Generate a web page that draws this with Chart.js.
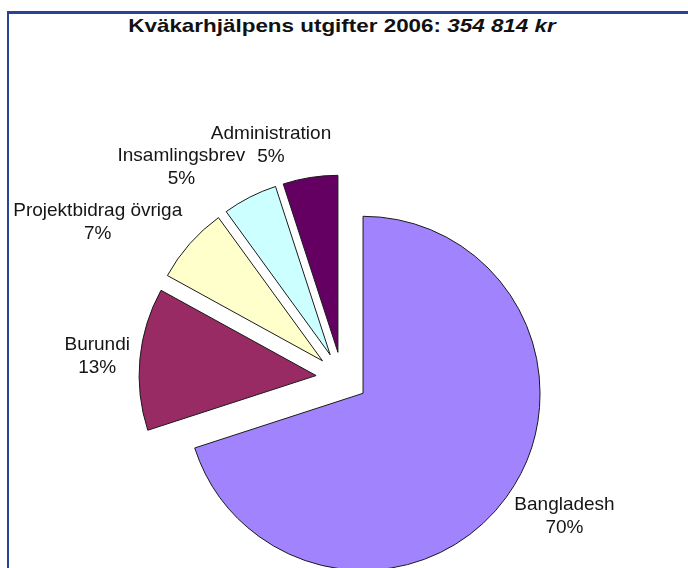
<!DOCTYPE html>
<html>
<head>
<meta charset="utf-8">
<script src="https://cdn.jsdelivr.net/npm/chart.js@4/dist/chart.umd.min.js"></script>
<style>
  html, body { margin: 0; padding: 0; background: #ffffff; }
  #wrap { position: relative; width: 688px; height: 568px; overflow: hidden; background: #fff; }
  #frame { position: absolute; left: 7px; top: 11px; width: 700px; height: 620px;
           border-top: 3px solid #2A4495; border-left: 2px solid #2A4495; }
  #title { position: absolute; left: 0; top: 16px; width: 684px; text-align: center;
           font: bold 19px "Liberation Sans", Arial, sans-serif; line-height: 20px; color: #111;
           transform: scaleX(1.18); transform-origin: 342px 0; white-space: nowrap; }
  canvas { position: absolute; left: 0; top: 0; }
</style>
</head>
<body>
<div id="wrap">
  <div id="frame"></div>
  <div id="title">Kväkarhjälpens utgifter 2006: <i>354 814 kr</i></div>
  <canvas id="c" width="688" height="568"></canvas>
</div>
<script>
const categories = ['Bangladesh', 'Burundi', 'Projektbidrag övriga', 'Insamlingsbrev', 'Administration'];
const shares = [70, 13, 7, 5, 5];
const sliceColors = ['#A283FE', '#982A64', '#FFFFCC', '#CCFFFF', '#640062'];

const EXPLODE = 26;

const explodePlugin = {
  id: 'explode',
  beforeDatasetDraw(chart, args) {
    const ctx = chart.ctx;
    args.meta.data.forEach(arc => {
      const mid = (arc.startAngle + arc.endAngle) / 2;
      ctx.save();
      ctx.translate(Math.cos(mid) * EXPLODE, Math.sin(mid) * EXPLODE);
      arc.draw(ctx);
      ctx.restore();
    });
    return false;
  }
};

const labelPlugin = {
  id: 'outLabels',
  afterDatasetsDraw(chart) {
    const ctx = chart.ctx;
    const meta = chart.getDatasetMeta(0);
    ctx.save();
    ctx.font = '19px "Liberation Sans", Arial, sans-serif';
    ctx.fillStyle = '#151515';
    ctx.textAlign = 'center';
    ctx.textBaseline = 'middle';
    const lh = 23, gap = 10;
    meta.data.forEach((arc, i) => {
      const p = arc.getProps(['x', 'y', 'startAngle', 'endAngle', 'outerRadius'], true);
      const mid = (p.startAngle + p.endAngle) / 2;
      const dx = Math.cos(mid), dy = Math.sin(mid);
      const ax = p.x + dx * EXPLODE, ay = p.y + dy * EXPLODE;
      const R = p.outerRadius + gap;
      const px = ax + dx * R, py = ay + dy * R;
      const lines = [categories[i], shares[i] + '%'];
      const w = Math.max(...lines.map(l => ctx.measureText(l).width));
      const h = lh * lines.length;
      const sx = Math.max(-1, Math.min(1, dx * 4));
      const cx = px + sx * w / 2;
      const cy = py + dy * h / 2;
      lines.forEach((l, j) => ctx.fillText(l, cx, cy + (j - (lines.length - 1) / 2) * lh));
    });
    ctx.restore();
  }
};

new Chart(document.getElementById('c'), {
  type: 'pie',
  data: {
    labels: categories,
    datasets: [{
      data: shares,
      backgroundColor: sliceColors,
      borderColor: '#1a1a1a',
      borderWidth: 1,
      hoverOffset: 0
    }]
  },
  options: {
    responsive: false,
    devicePixelRatio: 1,
    animation: false,
    events: [],
    radius: 177,
    layout: { padding: { left: 0, right: 4, top: 188, bottom: 0 } },
    plugins: {
      legend: { display: false },
      title: { display: false },
      tooltip: { enabled: false }
    }
  },
  plugins: [explodePlugin, labelPlugin]
});
</script>
</body>
</html>
